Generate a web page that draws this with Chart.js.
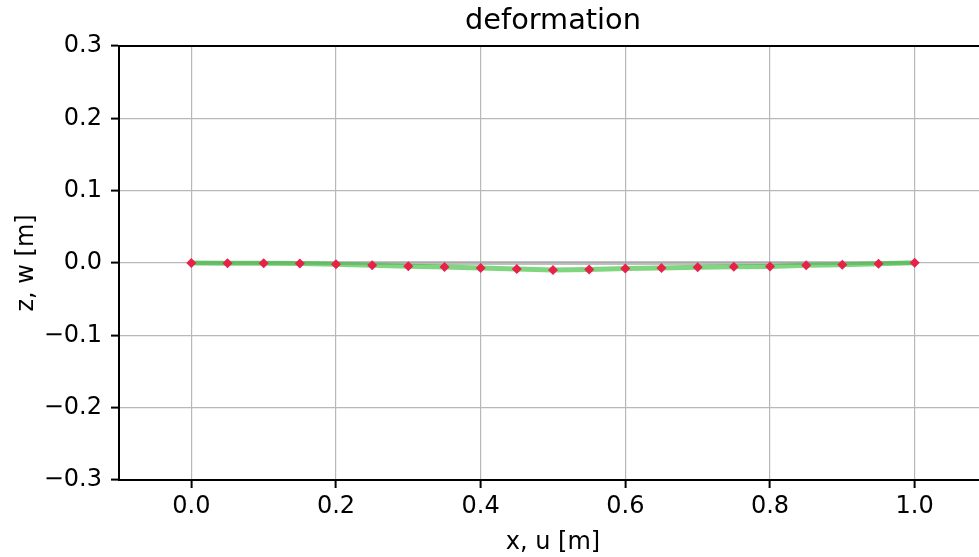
<!DOCTYPE html>
<html>
<head>
<meta charset="utf-8">
<script src="https://cdn.jsdelivr.net/npm/chart.js@4.4.0/dist/chart.umd.min.js"></script>
<style>
  html, body { margin: 0; padding: 0; overflow: hidden; background: #ffffff; }
  #wrap { position: relative; width: 1000px; height: 557px; }
</style>
</head>
<body>
<div id="wrap"><canvas id="chart" width="1000" height="557"></canvas></div>
<script>
// node positions along the beam
const nodesX = [0.0, 0.05, 0.1, 0.15, 0.2, 0.25, 0.3, 0.35, 0.4, 0.45, 0.5, 0.55, 0.6, 0.65, 0.7, 0.75, 0.8, 0.85, 0.9, 0.95, 1.0];
// undeformed shape
const undeformedZ = [0, 0, 0, 0, 0, 0, 0, 0, 0, 0, 0, 0, 0, 0, 0, 0, 0, 0, 0, 0, 0];
// deformed shape (vertical displacement)
const deformedW = [0, -0.0003, -0.0004, -0.0006, -0.0017, -0.0031, -0.0045, -0.0055, -0.0069, -0.0083, -0.0096, -0.0091, -0.0078, -0.0070, -0.0060, -0.0051, -0.0047, -0.0033, -0.0023, -0.0010, 0.0004];

const xTicks = [0.0, 0.2, 0.4, 0.6, 0.8, 1.0];
const yTicks = [-0.3, -0.2, -0.1, 0.0, 0.1, 0.2, 0.3];

const FONT = 'DejaVu Sans';
Chart.defaults.color = '#000000';
Chart.defaults.font.family = FONT;

function toPoints(xs, ys) {
  return xs.map((x, i) => ({ x: x, y: ys[i] }));
}

function fmt(v) {
  return v.toFixed(1).replace('-', '\u2212');
}

// matplotlib-like top spine
const topSpine = {
  id: 'topSpine',
  afterDraw(chart) {
    const { ctx, chartArea } = chart;
    ctx.save();
    ctx.strokeStyle = '#000000';
    ctx.lineWidth = 2;
    ctx.beginPath();
    ctx.moveTo(chartArea.left - 1, chartArea.top);
    ctx.lineTo(chartArea.right, chartArea.top);
    ctx.stroke();
    ctx.restore();
  }
};

new Chart(document.getElementById('chart'), {
  type: 'scatter',
  data: {
    datasets: [
      {
        label: 'deformed',
        data: toPoints(nodesX, deformedW),
        showLine: true,
        borderColor: 'rgba(60,190,60,0.65)',
        borderWidth: 5,
        pointStyle: 'rectRot',
        pointRadius: 5,
        pointBackgroundColor: '#e8204a',
        pointBorderColor: '#e8204a',
        pointBorderWidth: 0,
        order: 1
      },
      {
        label: 'undeformed',
        data: toPoints(nodesX, undeformedZ),
        showLine: true,
        borderColor: 'rgba(160,160,160,0.65)',
        borderWidth: 4,
        pointRadius: 0,
        order: 2
      }
    ]
  },
  options: {
    responsive: false,
    animation: false,
    layout: { padding: { top: 0, right: 13, bottom: 0, left: 0 } },
    scales: {
      x: {
        type: 'linear',
        min: -0.1,
        max: 1.1,
        afterBuildTicks: (scale) => { scale.ticks = xTicks.map(v => ({ value: v })); },
        afterFit: (scale) => { scale.height = 77; },
        ticks: {
          padding: 4,
          font: { size: 24 },
          callback: (v) => fmt(v)
        },
        grid: {
          color: '#b8b8b8',
          lineWidth: 1.2,
          tickColor: '#000000',
          tickLength: 8,
          tickWidth: 2
        },
        border: { color: '#000000', width: 2 },
        title: {
          display: true,
          text: 'x, u [m]',
          font: { size: 24 },
          padding: { top: 0, bottom: 0 }
        }
      },
      y: {
        type: 'linear',
        min: -0.3,
        max: 0.3,
        afterBuildTicks: (scale) => { scale.ticks = yTicks.map(v => ({ value: v })); },
        afterFit: (scale) => { scale.width = 119; },
        ticks: {
          padding: 9,
          font: { size: 24 },
          callback: (v) => fmt(v)
        },
        grid: {
          color: '#b8b8b8',
          lineWidth: 1.2,
          tickColor: '#000000',
          tickLength: 8,
          tickWidth: 2
        },
        border: { color: '#000000', width: 2 },
        title: {
          display: true,
          text: 'z, w [m]',
          font: { size: 24 },
          padding: { top: 12, bottom: 0 }
        }
      }
    },
    plugins: {
      legend: { display: false },
      tooltip: { enabled: false },
      title: {
        display: true,
        text: 'deformation',
        fullSize: false,
        font: { size: 28.8, weight: 'normal' },
        padding: { top: 4, bottom: 7.4 }
      }
    }
  },
  plugins: [topSpine]
});
</script>
</body>
</html>
